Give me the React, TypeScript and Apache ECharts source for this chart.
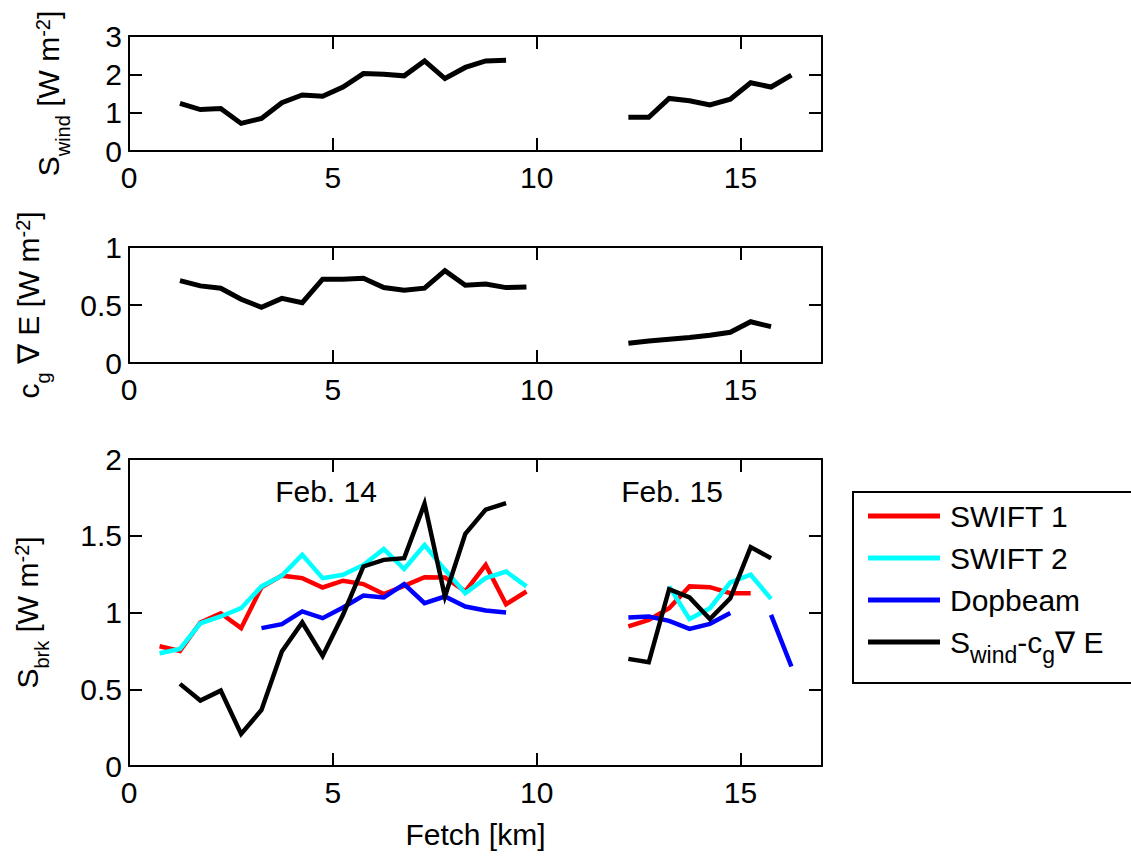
import React, { useEffect, useRef } from "react";
import * as echarts from "echarts";

// Fetch positions (km)
const fetchFeb14 = [0.75, 1.25, 1.75, 2.25, 2.75, 3.25, 3.75, 4.25, 4.75, 5.25, 5.75, 6.25, 6.75, 7.25, 7.75, 8.25, 8.75, 9.25, 9.75];
const fetchFeb15 = [12.25, 12.75, 13.25, 13.75, 14.25, 14.75, 15.25, 15.75, 16.25];

// S_wind [W m^-2]
const sWind14 = [null, 1.24, 1.08, 1.11, 0.72, 0.85, 1.26, 1.46, 1.43, 1.67, 2.02, 2.0, 1.96, 2.35, 1.89, 2.18, 2.35, 2.37, null];
const sWind15 = [0.88, 0.88, 1.37, 1.31, 1.2, 1.35, 1.78, 1.67, 1.98];

// c_g grad E [W m^-2]
const cgGradE14 = [null, 0.71, 0.665, 0.645, 0.55, 0.48, 0.557, 0.52, 0.723, 0.723, 0.73, 0.65, 0.627, 0.645, 0.796, 0.67, 0.68, 0.65, 0.656];
const cgGradE15 = [0.17, 0.19, 0.205, 0.22, 0.24, 0.265, 0.356, 0.313, null];

// S_brk [W m^-2]
const swift1_14 = [0.78, 0.75, 0.935, 0.995, 0.898, 1.165, 1.24, 1.224, 1.163, 1.207, 1.185, 1.12, 1.174, 1.23, 1.228, 1.137, 1.31, 1.054, 1.137];
const swift1_15 = [0.909, 0.952, 1.028, 1.17, 1.165, 1.126, 1.126, null, null];
const swift2_14 = [0.735, 0.763, 0.93, 0.974, 1.028, 1.17, 1.24, 1.376, 1.224, 1.246, 1.31, 1.413, 1.283, 1.44, 1.278, 1.126, 1.224, 1.267, 1.17];
const swift2_15 = [null, null, 1.17, 0.957, 1.028, 1.196, 1.246, 1.089, null];
const dopbeam14 = [null, null, null, null, null, 0.898, 0.924, 1.007, 0.963, 1.033, 1.11, 1.098, 1.185, 1.061, 1.104, 1.039, 1.013, 1.0, null];
const dopbeam15 = [0.967, 0.974, 0.946, 0.893, 0.926, 0.996, null, 0.985, 0.648];
const resid14 = [null, 0.535, 0.426, 0.491, 0.209, 0.365, 0.746, 0.935, 0.717, 0.985, 1.3, 1.343, 1.354, 1.709, 1.104, 1.513, 1.67, 1.713, null];
const resid15 = [0.698, 0.676, 1.152, 1.098, 0.957, 1.093, 1.426, 1.354, null];

const xTicks = [0, 5, 10, 15];
const dayLabels = ["Feb. 14", "Feb. 15"];
const legendNames = ["SWIFT 1", "SWIFT 2", "Dopbeam", "resid"];

const FONT = "'Liberation Sans', Arial, Helvetica, sans-serif";

function toPairs(a: (number | null)[], b: (number | null)[]) {
  const p1 = fetchFeb14.map((x, i) => [x, a[i] == null ? "-" : a[i]]);
  const p2 = fetchFeb15.map((x, i) => [x, b[i] == null ? "-" : b[i]]);
  return [...p1, [11, "-"], ...p2];
}

const richAxis = {
  n: { fontSize: 30, lineHeight: 30, verticalAlign: "top", fontFamily: FONT, color: "#000" },
  sub: { fontSize: 20, lineHeight: 20, verticalAlign: "top", padding: [20, 0, 0, 0], fontFamily: FONT, color: "#000" },
  sup: { fontSize: 20, lineHeight: 13, verticalAlign: "top", fontFamily: FONT, color: "#000" },
};
const richLegend = {
  n: { fontSize: 30, lineHeight: 30, verticalAlign: "top", fontFamily: FONT, color: "#000" },
  sub: { fontSize: 23, lineHeight: 22, verticalAlign: "top", padding: [16, 0, 8, 0], fontFamily: FONT, color: "#000" },
};

export default function App() {
  const ref = useRef<HTMLDivElement>(null);
  useEffect(() => {
    if (!ref.current) return;
    const chart = echarts.init(ref.current, undefined, { renderer: "svg" });
    const axisLine = { show: true, onZero: false, lineStyle: { color: "#000", width: 2 } };
    const axisTick = { show: true, inside: true, length: 13, lineStyle: { color: "#000", width: 2 } };
    const xFmt = (v: number) => (xTicks.includes(v) ? String(v) : "");
    const grids = [
      { left: 129, top: 36, width: 693, height: 115 },
      { left: 129, top: 247, width: 693, height: 116 },
      { left: 129, top: 459, width: 693, height: 307 },
    ];
    const yConf = [
      { max: 3, interval: 1, name: "{n|S}{sub|wind}{n| [W m}{sup|-2}{n|]}", gap: 66 },
      { max: 1, interval: 0.5, name: "{n|c}{sub|g}{n| ∇ E [W m}{sup|-2}{n|]}", gap: 86 },
      { max: 2, interval: 0.5, name: "{n|S}{sub|brk}{n| [W m}{sup|-2}{n|]}", gap: 87 },
    ];
    const xAxis: any[] = [];
    const yAxis: any[] = [];
    grids.forEach((g, i) => {
      xAxis.push({
        type: "value", gridIndex: i, min: 0, max: 17, interval: 5, position: "bottom",
        axisLine, axisTick, splitLine: { show: false },
        axisLabel: { fontSize: 30, color: "#000", fontFamily: FONT, margin: 11, formatter: xFmt },
        ...(i === 2 ? { name: "Fetch [km]", nameLocation: "middle", nameGap: 53, nameTextStyle: { fontSize: 30, color: "#000", fontFamily: FONT } } : {}),
      });
      xAxis.push({
        type: "value", gridIndex: i, min: 0, max: 17, interval: 5, position: "top",
        axisLine, axisTick, splitLine: { show: false }, axisLabel: { show: false },
      });
      const yc = yConf[i];
      yAxis.push({
        type: "value", gridIndex: i, min: 0, max: yc.max, interval: yc.interval, position: "left",
        axisLine, axisTick, splitLine: { show: false },
        axisLabel: { fontSize: 30, color: "#000", fontFamily: FONT, margin: 7 },
        name: yc.name, nameLocation: "middle", nameRotate: 90, nameGap: yc.gap,
        nameTextStyle: { rich: richAxis },
      });
      yAxis.push({
        type: "value", gridIndex: i, min: 0, max: yc.max, interval: yc.interval, position: "right",
        axisLine, axisTick, splitLine: { show: false }, axisLabel: { show: false },
      });
    });
    const line = (name: string, idx: number, data: any[], color: string, width: number) => ({
      type: "line", name, xAxisIndex: idx * 2, yAxisIndex: idx * 2, data, color,
      showSymbol: false, symbol: "none", connectNulls: false, silent: true,
      lineStyle: { color, width, join: "miter" },
    });
    const series = [
      line("Swind", 0, toPairs(sWind14, sWind15), "#000", 5),
      line("cgGradE", 1, toPairs(cgGradE14, cgGradE15), "#000", 5),
      line(legendNames[0], 2, toPairs(swift1_14, swift1_15), "#ff0000", 4.5),
      line(legendNames[1], 2, toPairs(swift2_14, swift2_15), "#00ffff", 4.5),
      line(legendNames[2], 2, toPairs(dopbeam14, dopbeam15), "#0000ff", 4.5),
      line(legendNames[3], 2, toPairs(resid14, resid15), "#000000", 4.5),
    ];
    const frame = { stroke: "#000", lineWidth: 2 };
    chart.setOption({
      animation: false,
      backgroundColor: "#fff",
      textStyle: { fontFamily: FONT },
      grid: grids.map((g) => ({ ...g, containLabel: false, outerBoundsMode: "none" })),
      xAxis,
      yAxis,
      series,
      legend: {
        data: legendNames,
        orient: "vertical",
        left: 853,
        top: 492,
        itemWidth: 72,
        itemHeight: 5,
        itemGap: 12,
        icon: "rect",
        selectedMode: false,
        borderWidth: 0,
        padding: [9, 10, 11, 15],
        formatter: (n: string) => (n === "resid" ? "{n|S}{sub|wind}{n|-c}{sub|g}{n|∇ E}" : n),
        textStyle: { fontSize: 30, lineHeight: 30, color: "#000", fontFamily: FONT, padding: [0, 0, 0, 5], rich: richLegend },
      },
      graphic: [
        { type: "line", silent: true, z: 10, shape: { x1: 853, y1: 492, x2: 1140, y2: 492 }, style: frame },
        { type: "line", silent: true, z: 10, shape: { x1: 853, y1: 491, x2: 853, y2: 684 }, style: frame },
        { type: "line", silent: true, z: 10, shape: { x1: 853, y1: 683, x2: 1140, y2: 683 }, style: frame },
        { type: "text", x: 326, y: 491, silent: true, style: { text: dayLabels[0], align: "center", verticalAlign: "middle", fontSize: 30, fontFamily: FONT, fill: "#000" } },
        { type: "text", x: 672, y: 491, silent: true, style: { text: dayLabels[1], align: "center", verticalAlign: "middle", fontSize: 30, fontFamily: FONT, fill: "#000" } },
      ],
    });
    return () => chart.dispose();
  }, []);
  return (
    <div
      ref={ref}
      style={{ position: "fixed", left: 0, top: 0, width: 1131, height: 860, background: "#fff" }}
    />
  );
}
